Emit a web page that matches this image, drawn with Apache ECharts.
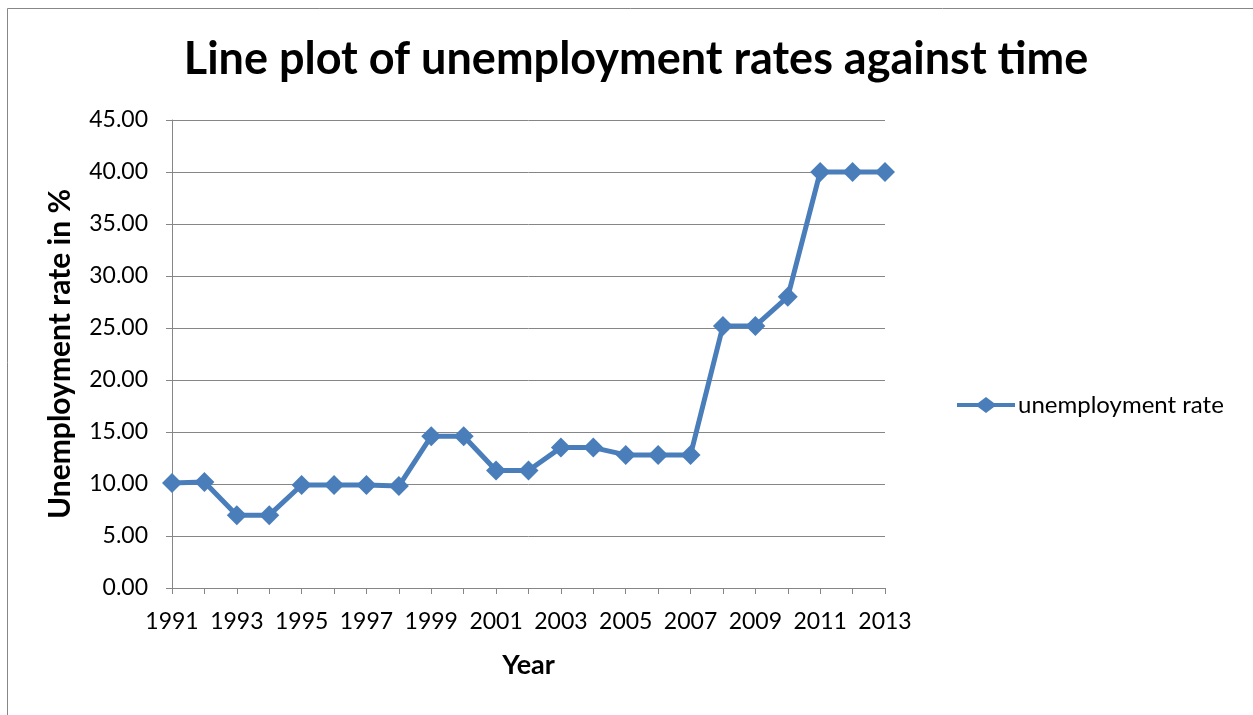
<!DOCTYPE html>
<html>
<head>
<meta charset="utf-8">
<script src="https://cdn.jsdelivr.net/npm/echarts@6/dist/echarts.min.js"></script>
<style>html,body{margin:0;padding:0;background:#fff;}#c{width:1253px;height:715px;}</style>
</head>
<body>
<div id="c"></div>
<script>
var years = ['1991','1992','1993','1994','1995','1996','1997','1998','1999','2000','2001','2002','2003','2004','2005','2006','2007','2008','2009','2010','2011','2012','2013'];
var unemploymentRate = [10.1,10.2,7.0,7.0,9.9,9.9,9.9,9.8,14.6,14.6,11.3,11.3,13.5,13.5,12.8,12.8,12.8,25.2,25.2,28.0,40.0,40.0,40.0];
var seriesName = 'unemployment rate';
var titleText = 'Line plot of unemployment rates against time';
var xName = 'Year';
var yName = 'Unemployment rate in %';

var font = 'Lato, "Open Sans", sans-serif';
var chart = echarts.init(document.getElementById('c'));
chart.setOption({
  animation: false,
  graphic: [{type:'rect', shape:{x:7.5,y:8.5,width:1300,height:800}, style:{fill:'none', stroke:'#878787', lineWidth:1}}],
  title: {text: titleText, left: 631, top: 32, textAlign: 'center',
    textStyle: {fontFamily: font, fontWeight: 'bold', fontSize: 45, color: '#000'}},
  legend: {data:[{name: seriesName, icon: 'path://M0,6 L21,6 L29,0 L37,6 L58,6 L58,10 L37,10 L29,16 L21,10 L0,10 Z'}],
    left: 952, top: 388, itemWidth: 58, itemHeight: 16, itemGap: 3,
    textStyle: {fontFamily: font, fontSize: 24, color:'#000', padding:[0,0,0,-2]}},
  grid: {left: 172, right: 1253-885, top: 120, bottom: 715-588, containLabel: false},
  xAxis: {type:'category', data: years, boundaryGap: false, name: xName, nameLocation:'middle', nameGap: 64,
    nameTextStyle: {fontFamily: font, fontWeight:'bold', fontSize: 27, color:'#000'},
    axisLine: {lineStyle:{color:'#868686', width:1}},
    axisTick: {show:true, interval:0, length:6, lineStyle:{color:'#868686'}},
    axisLabel: {interval:1, fontFamily: font, fontSize: 23, color:'#000', margin: 22},
    splitLine: {show:false}},
  yAxis: {type:'value', min:0, max:45, interval:5, name: yName, nameLocation:'middle', nameGap: 97,
    nameTextStyle: {fontFamily: font, fontWeight:'bold', fontSize: 30, color:'#000'},
    axisLine: {show:true, lineStyle:{color:'#868686', width:1}},
    axisTick: {show:true, length:6, lineStyle:{color:'#868686'}},
    axisLabel: {fontFamily: font, fontSize: 23, color:'#000', margin: 24, formatter: function(v){return v.toFixed(2);}},
    splitLine: {show:true, lineStyle:{color:'#868686', width:1}}},
  series: [{name: seriesName, type:'line', data: unemploymentRate, symbol:'diamond', symbolSize: 20,
    lineStyle:{color:'#4a7ebb', width:5}, itemStyle:{color:'#4a7ebb'}}]
});
</script>
</body>
</html>
